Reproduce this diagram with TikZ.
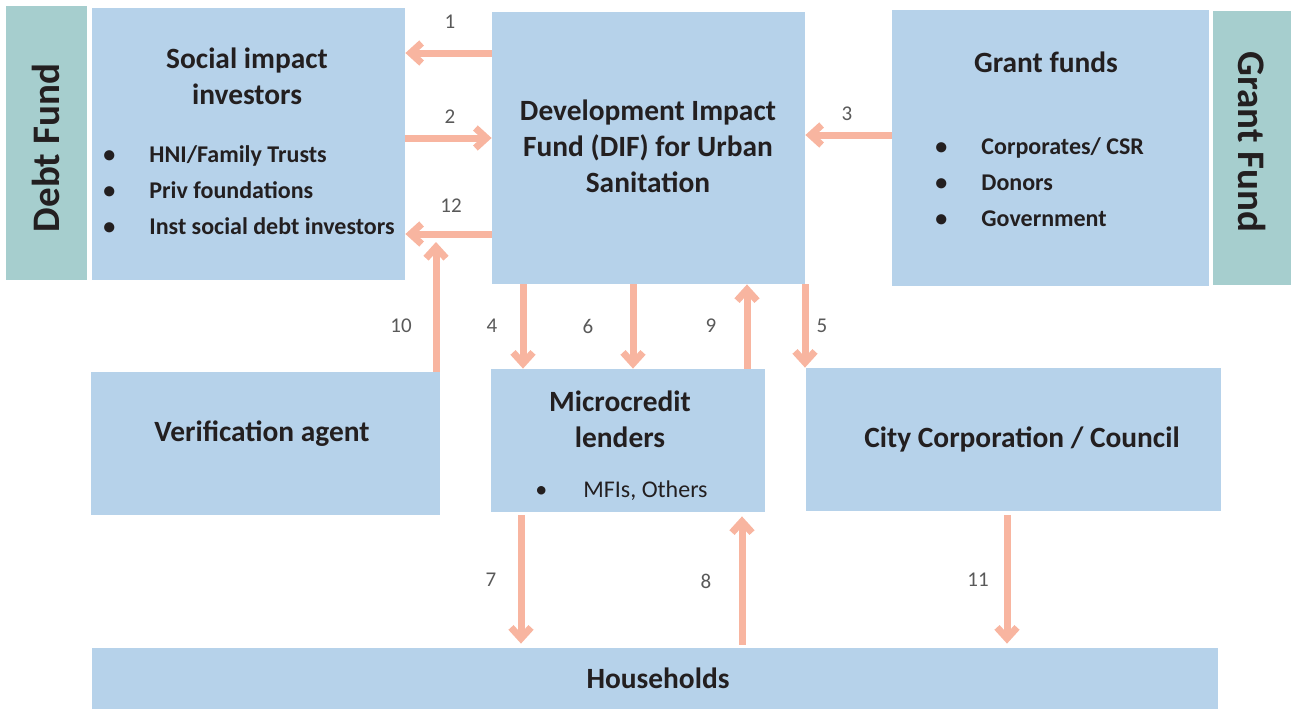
\documentclass[tikz,border=0pt]{standalone}
\usepackage{fontspec}
\setmainfont{Carlito}
\usetikzlibrary{arrows.meta,fit}
\definecolor{boxblue}{HTML}{B6D2EA}
\definecolor{sidegreen}{HTML}{A6CECE}
\definecolor{flowpink}{HTML}{F8B5A0}
\definecolor{ink}{HTML}{231F20}
\definecolor{numgray}{HTML}{595959}
\newcommand{\itm}[2][23pt]{\makebox[#1][l]{\textbullet}#2}
\tikzset{
  box/.style={fill=boxblue, inner sep=0pt, fit={#1}},
  sidebar/.style={fill=sidegreen, inner sep=0pt, fit={#1}},
  title/.style={text=ink, align=center, inner sep=0pt, font=\bfseries\fontsize{14.7}{18}\selectfont},
  sidetext/.style={text=ink, inner sep=0pt, font=\bfseries\fontsize{19.5}{22}\selectfont},
  items/.style={text=ink, align=left, inner sep=0pt, anchor=west, font=\bfseries\fontsize{12}{18}\selectfont},
  num/.style={text=numgray, inner sep=0pt, font=\fontsize{10.5}{12}\selectfont},
  flow/.style={draw=flowpink, line width=3.5pt, -{Straight Barb[length=5.5pt,width=10pt]}}
}
\begin{document}
\begin{tikzpicture}[x=0.5pt, y=-0.5pt]
\useasboundingbox (0,0) rectangle (1291,709);
% boxes
\node[sidebar={(6,6) (87,280)}] (debt) {};
\node[box={(92,8) (405,280)}] (sii) {};
\node[box={(492,12) (805,284)}] (dif) {};
\node[box={(892,10) (1209,286)}] (grant) {};
\node[sidebar={(1213,11) (1291,285)}] (grantside) {};
\node[box={(91,372) (440,515)}] (verif) {};
\node[box={(491,369) (765,512)}] (micro) {};
\node[box={(806,368) (1221,511)}] (city) {};
\node[box={(92,648) (1218,709)}] (house) {};

% texts
\node[sidetext, rotate=90] (debt text) at (46,148) {Debt Fund};
\node[sidetext, rotate=-90] (grantside text) at (1252,142) {Grant Fund};
\node[title] (sii title) at (247,76) {Social impact\\investors};
\node[items] (sii items) at (103,190) {\itm{HNI/Family Trusts}\\\itm{Priv foundations}\\\itm{Inst social debt investors}};
\node[title] (dif text) at (648,146) {Development Impact\\Fund (DIF) for Urban\\Sanitation};
\node[title] (grant title) at (1046,62) {Grant funds};
\node[items] (grant items) at (935,182) {\itm{Corporates/ CSR}\\\itm{Donors}\\\itm{Government}};
\node[title] (verif text) at (262,434) {Verification agent};
\node[title] (micro title) at (620,419) {Microcredit\\lenders};
\node[items, font=\fontsize{12}{18}\selectfont] (micro items) at (535,491) {\itm[24pt]{MFIs, Others}};
\node[title] (city text) at (1022,439) {City Corporation / Council};
\node[title] (house text) at (658,678) {Households};

% flows
\coordinate (tip10) at (436,242);
\draw[flow] (dif.west |- 0,53) -- (sii.east |- 0,53);
\draw[flow] (sii.east |- 0,138) -- (dif.west |- 0,138);
\draw[flow] (dif.west |- 0,234) -- (sii.east |- 0,234);
\draw[flow] (grant.west |- 0,135) -- (dif.east |- 0,135);
\draw[flow] (verif.north -| tip10) -- (tip10);
\draw[flow] (dif.south -| 523,0) -- (micro.north -| 523,0);
\draw[flow] (dif.south -| 633,0) -- (micro.north -| 633,0);
\draw[flow] (micro.north -| 747,0) -- (dif.south -| 747,0);
\draw[flow] (dif.south -| 805,0) -- (city.north -| 805,0);
\draw[flow, shorten <=1.5pt, shorten >=2pt] (micro.south -| 521,0) -- (house.north -| 521,0);
\draw[flow, shorten <=1.5pt, shorten >=2pt] (house.north -| 742,0) -- (micro.south -| 742,0);
\draw[flow, shorten <=2pt, shorten >=2pt] (city.south -| 1007,0) -- (house.north -| 1007,0);

% numbers
\node[num] (n1) at (450,22) {1};
\node[num] (n2) at (450,117) {2};
\node[num] (n12) at (451,206) {12};
\node[num] (n3) at (847,114) {3};
\node[num] (n10) at (401,326) {10};
\node[num] (n4) at (492,326) {4};
\node[num] (n6) at (588,326) {6};
\node[num] (n9) at (711,326) {9};
\node[num] (n5) at (822,326) {5};
\node[num] (n7) at (491,580) {7};
\node[num] (n8) at (706,581) {8};
\node[num] (n11) at (978,580) {11};
\end{tikzpicture}
\end{document}
